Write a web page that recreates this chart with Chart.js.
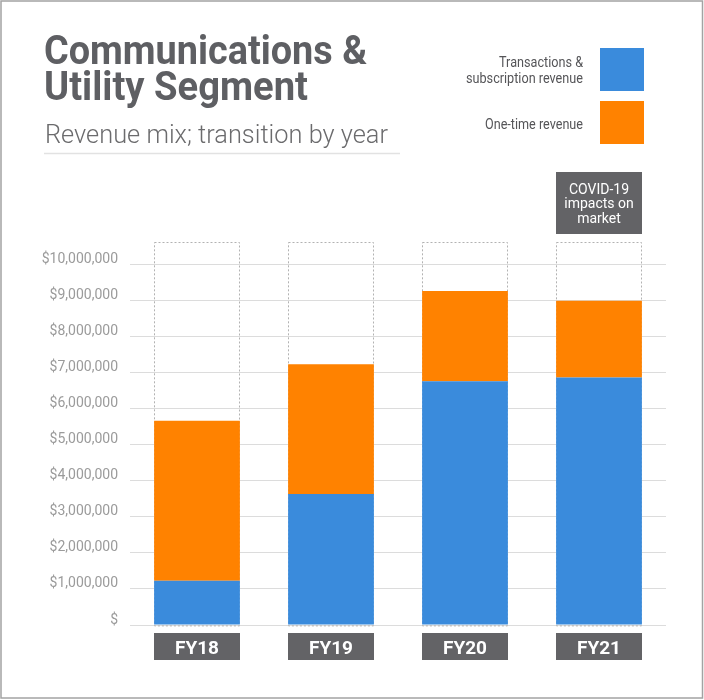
<!DOCTYPE html>
<html>
<head>
<meta charset="utf-8">
<script src="https://cdn.jsdelivr.net/npm/chart.js@4/dist/chart.umd.min.js"></script>
<style>
  html, body { margin: 0; padding: 0; background: #ffffff; }
  #c { display: block; }
</style>
</head>
<body>
<canvas id="c" width="704" height="700"></canvas>
<script>
// ---- data ----
const categories = ['FY18', 'FY19', 'FY20', 'FY21'];
const transactionsRevenue = [1230000, 3630000, 6760000, 6860000];
const oneTimeRevenue = [4430000, 3600000, 2500000, 2130000];
const seriesNames = ['Transactions &\nsubscription revenue', 'One-time revenue'];
const seriesColors = ['#3A8BDC', '#FF8200'];
const yTickValues = [0, 1000000, 2000000, 3000000, 4000000, 5000000, 6000000, 7000000, 8000000, 9000000, 10000000];
const yMax = 10630000;
const titleLines = ['Communications &', 'Utility Segment'];
const subtitleText = 'Revenue mix; transition by year';
const noteLines = ['COVID-19', 'impacts on', 'market'];
const noteCategory = 'FY21';

function fitText(ctx, text, x, y, font, color, align, targetWidth) {
  ctx.save();
  ctx.font = font;
  ctx.fillStyle = color;
  ctx.textBaseline = 'alphabetic';
  const w = ctx.measureText(text).width;
  const s = targetWidth ? targetWidth / w : 1;
  let x0 = x;
  if (align === 'right') x0 = x - w * s;
  else if (align === 'center') x0 = x - (w * s) / 2;
  ctx.translate(x0, y);
  ctx.scale(s, 1);
  ctx.textAlign = 'left';
  ctx.fillText(text, 0, 0);
  ctx.restore();
}

const decorPlugin = {
  id: 'decor',
  beforeDatasetsDraw(chart) {
    const ctx = chart.ctx;
    const xs = chart.scales.x, ys = chart.scales.y;
    const meta = chart.getDatasetMeta(0);
    ctx.save();
    ctx.strokeStyle = '#b2b2b2';
    ctx.lineWidth = 1;
    ctx.setLineDash([2, 2]);
    const top = ys.getPixelForValue(yMax);
    const bottom = ys.getPixelForValue(0);
    categories.forEach((c, i) => {
      const cx = xs.getPixelForValue(i);
      const w = meta.data[i].width;
      ctx.strokeRect(Math.round(cx - w / 2) + 0.5, Math.round(top) + 0.5, Math.round(w) - 1, bottom - top);
    });
    ctx.restore();
  },
  afterDraw(chart) {
    const ctx = chart.ctx;
    const xs = chart.scales.x, ys = chart.scales.y;
    const meta = chart.getDatasetMeta(0);
    const bottom = ys.getPixelForValue(0);

    // frame
    ctx.save();
    ctx.strokeStyle = '#a3a3a3';
    ctx.lineWidth = 1.5;
    ctx.strokeRect(1, 1, 701.5, 697);
    ctx.restore();

    // title
    fitText(ctx, titleLines[0], 44, 64, 'bold 41px Roboto', '#5e5f63', 'left', 323);
    fitText(ctx, titleLines[1], 44, 100, 'bold 41px Roboto', '#5e5f63', 'left', 264);
    fitText(ctx, subtitleText, 45, 142.5, '300 25px Roboto', '#6b6b6d', 'left', 343);
    ctx.save();
    ctx.strokeStyle = '#e2e2e2';
    ctx.lineWidth = 1.5;
    ctx.beginPath();
    ctx.moveTo(44, 153.5);
    ctx.lineTo(400, 153.5);
    ctx.stroke();
    ctx.restore();

    // legend
    const boxX = 600, boxW = 44;
    const boxTops = [48, 101];
    chart.data.datasets.forEach((ds, i) => {
      ctx.fillStyle = ds.backgroundColor;
      ctx.fillRect(boxX, boxTops[i], boxW, 43);
    });
    const l0 = seriesNames[0].split('\n');
    fitText(ctx, l0[0], 583, 67, '14px Roboto', '#555558', 'right', 84);
    fitText(ctx, l0[1], 583, 83, '14px Roboto', '#555558', 'right', 117);
    fitText(ctx, seriesNames[1], 583, 128.5, '14px Roboto', '#555558', 'right', 98);

    // x category boxes
    categories.forEach((c, i) => {
      const cx = xs.getPixelForValue(i);
      const w = meta.data[i].width;
      ctx.fillStyle = '#636366';
      ctx.fillRect(Math.round(cx - w / 2), bottom + 8, Math.round(w), 27);
      ctx.save();
      ctx.fillStyle = '#ffffff';
      ctx.font = 'bold 19px Roboto';
      ctx.textAlign = 'center';
      ctx.textBaseline = 'alphabetic';
      ctx.fillText(c, cx, bottom + 28.5);
      ctx.restore();
    });

    // annotation
    const ni = categories.indexOf(noteCategory);
    const ncx = xs.getPixelForValue(ni);
    const nw = meta.data[ni].width;
    ctx.fillStyle = '#636366';
    ctx.fillRect(Math.round(ncx - nw / 2), 172, Math.round(nw), 62);
    const nb = [193.5, 208, 222.5];
    noteLines.forEach((t, k) => {
      ctx.save();
      ctx.font = '14px Roboto';
      ctx.fillStyle = '#ffffff';
      ctx.textAlign = 'center';
      ctx.fillText(t, ncx, nb[k]);
      ctx.restore();
    });
  }
};

new Chart(document.getElementById('c'), {
  type: 'bar',
  data: {
    labels: categories,
    datasets: [
      { label: seriesNames[0], data: transactionsRevenue, backgroundColor: seriesColors[0], borderWidth: 0 },
      { label: seriesNames[1], data: oneTimeRevenue, backgroundColor: seriesColors[1], borderWidth: 0 }
    ]
  },
  options: {
    responsive: false,
    animation: false,
    devicePixelRatio: 1,
    layout: { padding: { top: 241.6, bottom: 75, left: 30, right: 38 } },
    datasets: { bar: { barPercentage: 0.64, categoryPercentage: 1.0 } },
    plugins: { legend: { display: false }, tooltip: { enabled: false }, title: { display: false } },
    scales: {
      x: { stacked: true, display: false, grid: { display: false } },
      y: {
        stacked: true,
        min: 0,
        max: yMax,
        border: { display: false },
        grid: { color: '#dcdcdc', lineWidth: 1, drawTicks: false },
        afterFit(scale) { scale.width = 100; },
        afterBuildTicks(scale) { scale.ticks = yTickValues.map(v => ({ value: v })); },
        ticks: {
          padding: 12,
          labelOffset: -5,
          color: '#9b9b9b',
          font: { family: 'Roboto', size: 14 },
          callback: (v) => v === 0 ? '$' : '$' + Number(v).toLocaleString('en-US')
        }
      }
    }
  },
  plugins: [decorPlugin]
});
</script>
</body>
</html>
